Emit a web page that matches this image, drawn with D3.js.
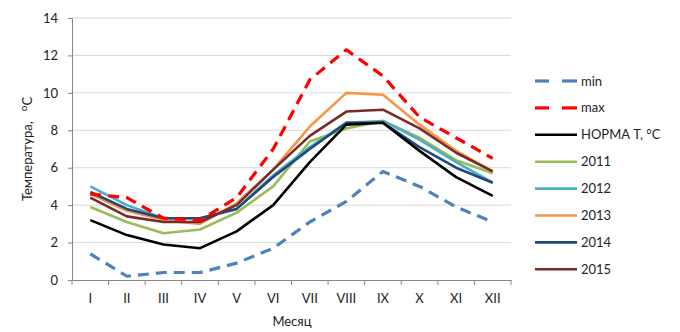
<!DOCTYPE html>
<html><head><meta charset="utf-8">
<script src="https://cdn.jsdelivr.net/npm/d3@7"></script>
<style>body{margin:0;background:#fff}svg{display:block}text{font-family:Lato,"Open Sans",sans-serif;fill:#222}</style>
</head><body><svg id="c" width="680" height="332"></svg>
<script>
const months = ["I","II","III","IV","V","VI","VII","VIII","IX","X","XI","XII"];
const yTicks = [0,2,4,6,8,10,12,14];
const seriesNames = ["min","max","НОРМА Т, °С","2011","2012","2013","2014","2015"];
const minVals   = [1.4,0.2,0.4,0.4,0.9,1.7,3.1,4.2,5.8,5.0,3.9,3.1];
const maxVals   = [4.6,4.4,3.3,3.2,4.4,7.0,10.7,12.3,10.9,8.7,7.6,6.5];
const normVals  = [3.2,2.4,1.9,1.7,2.6,4.0,6.3,8.3,8.4,6.9,5.5,4.5];
const v2011     = [3.9,3.1,2.5,2.7,3.6,5.0,7.4,8.1,8.5,7.6,6.4,5.7];
const v2012     = [5.0,4.0,3.3,3.3,3.8,5.6,7.1,8.4,8.5,7.5,6.3,5.2];
const v2013     = [4.6,3.7,3.2,3.0,4.1,5.9,8.2,10.0,9.9,8.3,6.9,5.8];
const v2014     = [4.7,3.8,3.3,3.3,3.8,5.5,7.0,8.4,8.4,7.1,6.0,5.2];
const v2015     = [4.4,3.4,3.1,3.1,4.0,5.9,7.7,9.0,9.1,8.1,6.8,5.8];

const series = [
  {name:seriesNames[0], vals:minVals, color:"#4f81bd", dash:true},
  {name:seriesNames[1], vals:maxVals, color:"#ff0000", dash:true},
  {name:seriesNames[2], vals:normVals, color:"#000000"},
  {name:seriesNames[3], vals:v2011, color:"#9bbb59"},
  {name:seriesNames[4], vals:v2012, color:"#4bacc6"},
  {name:seriesNames[5], vals:v2013, color:"#f79646"},
  {name:seriesNames[6], vals:v2014, color:"#1f497d"},
  {name:seriesNames[7], vals:v2015, color:"#772c2a"}
];

const svg = d3.select("#c");
const x = d3.scaleBand().domain(months).range([72,511]);
const y = d3.scaleLinear().domain([0,14]).range([280,18]);

// gridlines
svg.append("g").selectAll("line").data(yTicks.filter(d=>d>0)).join("line")
  .attr("x1",72).attr("x2",511).attr("y1",d=>y(d)).attr("y2",d=>y(d))
  .attr("stroke","#d9d9d9").attr("stroke-width",1);

// y axis
const ya = svg.append("g").attr("transform","translate(72,0)")
  .call(d3.axisLeft(y).tickValues(yTicks).tickSize(4).tickPadding(10));
ya.select(".domain").attr("stroke","#868686");
ya.selectAll(".tick line").attr("stroke","#868686");
ya.selectAll("text").attr("font-size",13).attr("font-family","Lato,sans-serif").attr("fill","#222");

// x axis
const xa = svg.append("g").attr("transform","translate(0,280)")
  .call(d3.axisBottom(x).tickSize(0).tickPadding(14));
xa.select(".domain").attr("stroke","#868686");
xa.selectAll("text").attr("font-size",13).attr("font-family","Lato,sans-serif").attr("fill","#222");
const bounds = months.map(m=>x(m)).concat([x.range()[1]]);
xa.selectAll("line.bt").data(bounds).join("line").attr("class","bt")
  .attr("x1",d=>d).attr("x2",d=>d).attr("y1",0).attr("y2",5).attr("stroke","#868686");

// lines
const line = d3.line().x((d,i)=>x(months[i])+x.bandwidth()/2).y(d=>y(d));
const order = [3,4,5,6,7,2,0,1];
svg.append("g").selectAll("path").data(order.map(i=>series[i])).join("path")
  .attr("d",s=>line(s.vals)).attr("fill","none").attr("stroke",s=>s.color)
  .attr("stroke-width",s=>s.dash?3.2:2.6)
  .attr("stroke-dasharray",s=>s.dash?"11,7":null)
  .attr("stroke-linejoin","round");

// legend
const lg = svg.append("g");
series.forEach((s,i)=>{
  const yy = 81 + i*26.9;
  if (s.dash) {
    lg.append("line").attr("x1",535).attr("x2",549).attr("y1",yy).attr("y2",yy).attr("stroke",s.color).attr("stroke-width",3.2);
    lg.append("line").attr("x1",562).attr("x2",577).attr("y1",yy).attr("y2",yy).attr("stroke",s.color).attr("stroke-width",3.2);
  } else {
    lg.append("line").attr("x1",535).attr("x2",577).attr("y1",yy).attr("y2",yy).attr("stroke",s.color).attr("stroke-width",2.6);
  }
  lg.append("text").attr("x",581).attr("y",yy).attr("dy","0.35em").attr("font-size",13).text(s.name);
});

// axis titles
svg.append("text").attr("transform","translate(32,149) rotate(-90)").attr("text-anchor","middle")
  .attr("font-size",13).html('Температура,&#160;&#160; <tspan dy="-5" font-size="10">о</tspan><tspan dy="5">С</tspan>');
svg.append("text").attr("x",292).attr("y",326).attr("text-anchor","middle").attr("font-size",13).text("Месяц");
</script></body></html>
